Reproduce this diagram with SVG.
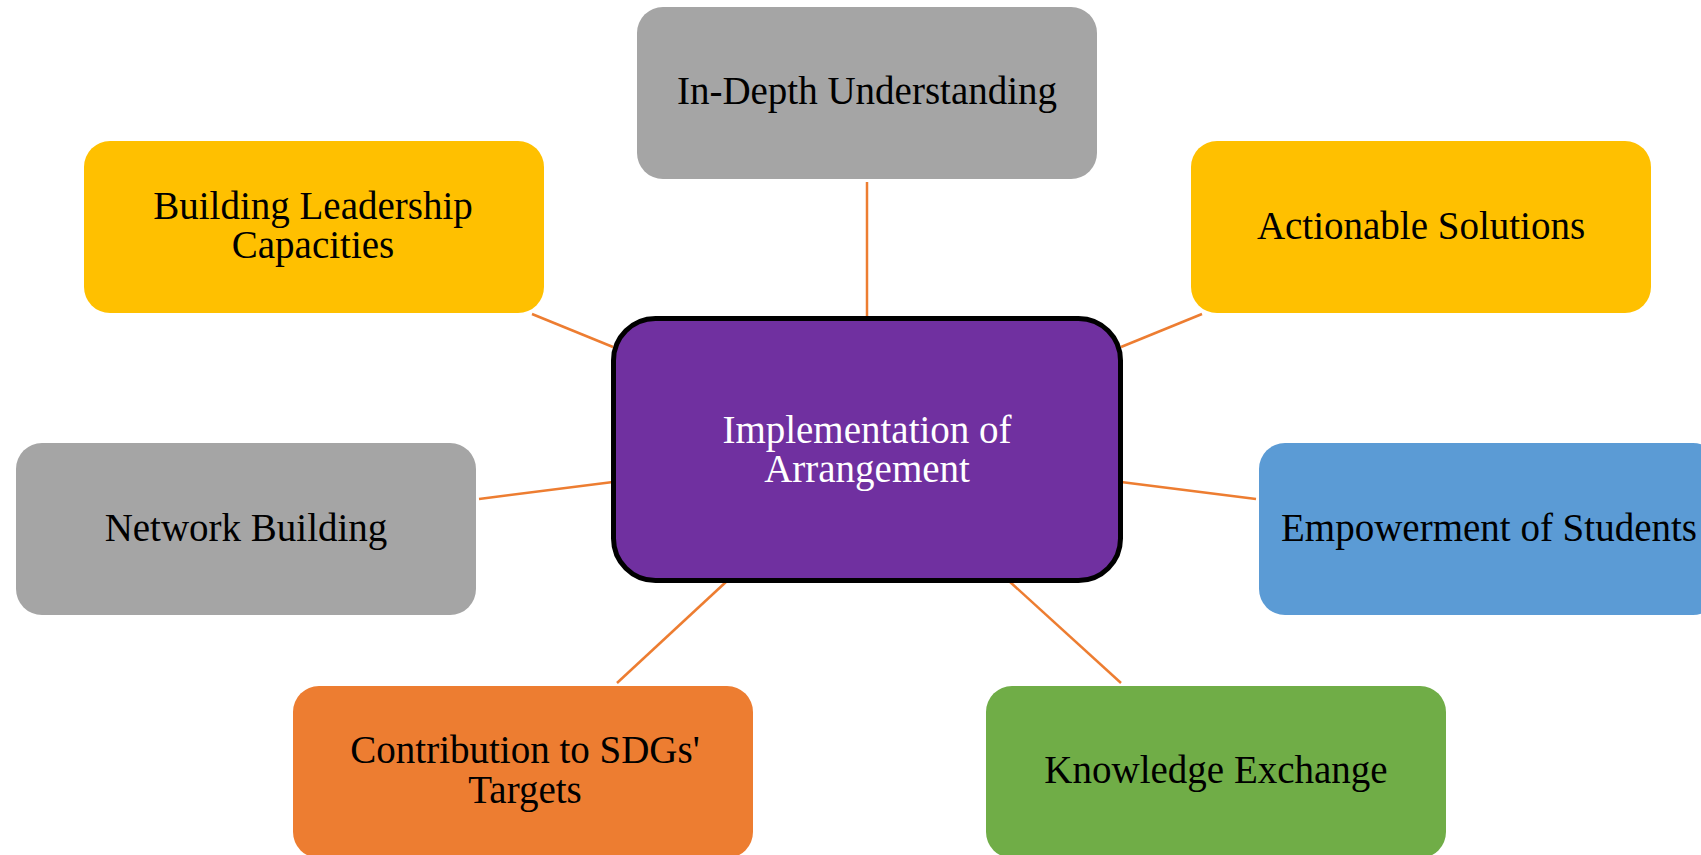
<svg xmlns="http://www.w3.org/2000/svg" width="1701" height="855" viewBox="0 0 1701 855">
<style>
.box{stroke:none}
.lbl{font-family:"Liberation Serif","Times New Roman",serif;font-size:39px;fill:#000;text-anchor:middle}
.clbl{font-family:"Liberation Serif","Times New Roman",serif;font-size:39px;fill:#fff;text-anchor:middle}
.conn line{stroke:#ED7D31;stroke-width:2.5;stroke-linecap:butt}
</style>
<rect width="1701" height="855" fill="#fff"/>
<g id="connectors" class="conn">
<line x1="867" y1="182" x2="867" y2="318"/>
<line x1="532" y1="314" x2="613" y2="347"/>
<line x1="1202" y1="314" x2="1121" y2="347"/>
<line x1="479" y1="499" x2="613" y2="482"/>
<line x1="1256" y1="499" x2="1121" y2="482"/>
<line x1="617" y1="683" x2="727" y2="581"/>
<line x1="1121" y1="683" x2="1009" y2="581"/>
</g>
<g id="node-center">
<rect x="613.5" y="318.5" width="507" height="262" rx="42" ry="42" fill="#7030A0" stroke="#000" stroke-width="5"/>
<text class="clbl" x="867" y="443">Implementation of</text>
<text class="clbl" x="867" y="482">Arrangement</text>
</g>
<g id="node-indepth">
<rect class="box" x="637" y="7" width="460" height="172" rx="26" fill="#A5A5A5"/>
<text class="lbl" x="867" y="104">In-Depth Understanding</text>
</g>
<g id="node-leadership">
<rect class="box" x="84" y="141" width="460" height="172" rx="26" fill="#FFC000"/>
<text class="lbl" x="313" y="219">Building Leadership</text>
<text class="lbl" x="313" y="258">Capacities</text>
</g>
<g id="node-actionable">
<rect class="box" x="1191" y="141" width="460" height="172" rx="26" fill="#FFC000"/>
<text class="lbl" x="1421" y="239">Actionable Solutions</text>
</g>
<g id="node-network">
<rect class="box" x="16" y="443" width="460" height="172" rx="26" fill="#A5A5A5"/>
<text class="lbl" x="246" y="541">Network Building</text>
</g>
<g id="node-empowerment">
<rect class="box" x="1259" y="443" width="460" height="172" rx="26" fill="#5B9BD5"/>
<text class="lbl" x="1489" y="541">Empowerment of Students</text>
</g>
<g id="node-contribution">
<rect class="box" x="293" y="686" width="460" height="172" rx="26" fill="#ED7D31"/>
<text class="lbl" x="525" y="763">Contribution to SDGs'</text>
<text class="lbl" x="525" y="803">Targets</text>
</g>
<g id="node-knowledge">
<rect class="box" x="986" y="686" width="460" height="172" rx="26" fill="#70AD47"/>
<text class="lbl" x="1216" y="783">Knowledge Exchange</text>
</g>
</svg>
